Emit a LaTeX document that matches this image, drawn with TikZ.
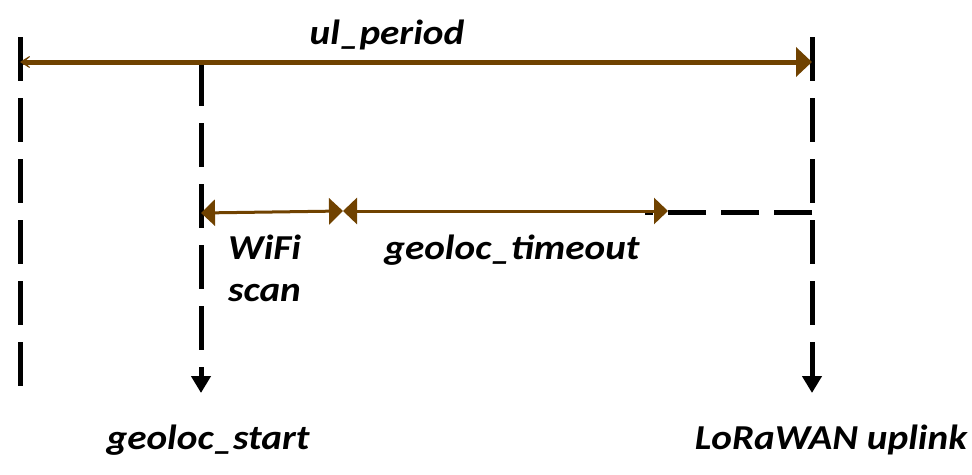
\documentclass[tikz,border=0pt]{standalone}
\usepackage{fontspec}
\setmainfont[FakeStretch=1.12]{Carlito}
\usetikzlibrary{arrows.meta}
\definecolor{ulbrown}{RGB}{112,66,0}
\tikzset{
  rotulo/.style={font=\fontsize{35}{40}\selectfont\bfseries\itshape, inner sep=0pt},
  tempo/.style={black, line width=5pt, dash pattern=on 44pt off 17pt},
  seta/.style={-{Triangle[length=17pt,width=19pt]}},
  periodo/.style={ulbrown, line width=5pt},
  intervalo/.style={ulbrown, line width=3pt, {Triangle[length=14pt,width=26pt]}-{Triangle[length=14pt,width=26pt]}},
}
\begin{document}
\begin{tikzpicture}[x=1pt, y=-1pt]
    \useasboundingbox (0,0) rectangle (972,474);
    % linhas verticais do tempo
    \coordinate (ini) at (20,37);   \coordinate (fim0) at (20,387);
    \coordinate (gs) at (201,62);   \coordinate (gs1) at (201,393);
    \coordinate (up) at (812,37);   \coordinate (up1) at (812,393);
    \draw[tempo] (ini) -- (fim0);
    \draw[tempo, seta] (gs) -- (gs1);
    \draw[tempo, seta] (up) -- (up1);
    % ul_period
    \coordinate (p0) at (20,62); \coordinate (p1) at (812,62);
    \draw[periodo, {Stealth[length=15pt,width=19pt,inset=11pt]}-{Triangle[length=16pt,width=29pt]}] (p0) -- (p1);
    \node[rotulo] (ulp) at (387,35) {ul\_period};
    % WiFi scan e timeout
    \coordinate (w0) at (201,213); \coordinate (w1) at (343,211);
    \coordinate (t1) at (668,211); \coordinate (d1) at (812,212);
    \draw[intervalo] (w0) -- (w1);
    \draw[tempo, dash pattern=on 38pt off 15pt] (d1) -- (645,212);
    \draw[intervalo] (w1) -- (t1);
    \node[rotulo, anchor=west] (wifi) at (228,247) {WiFi};
    \node[rotulo, anchor=west] (scan) at (228,293) {scan};
    \node[rotulo] (tout) at (512,250) {geoloc\_timeout};
    % rotulos de baixo
    \node[rotulo] (gstart) at (208,440) {geoloc\_start};
    \node[rotulo] (lora) at (831,440) {LoRaWAN uplink};
\end{tikzpicture}
\end{document}
